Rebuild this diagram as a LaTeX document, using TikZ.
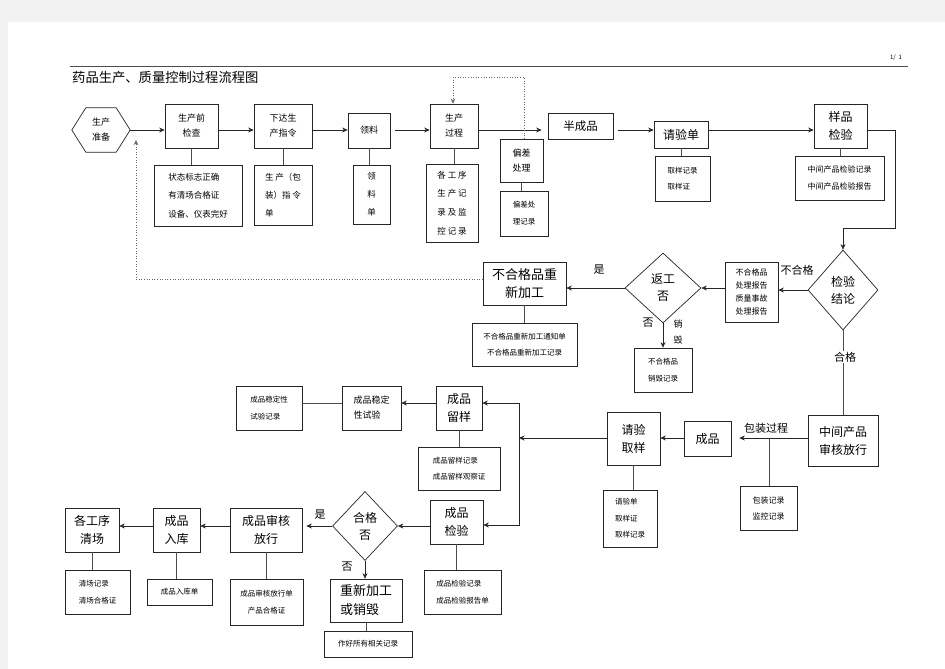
\documentclass[tikz,border=0pt]{standalone}
\usepackage{fontspec}
\setmainfont{Noto Sans CJK SC}
\usetikzlibrary{shapes.geometric,arrows.meta,calc}
\tikzset{
 bx/.style={draw=black!85, line width=0.7pt, inner sep=0pt, align=center},
 sm/.style={font=\fontsize{8}{16}\selectfont},
 tn/.style={font=\fontsize{7.5}{16.5}\selectfont},
 md/.style={font=\fontsize{9}{15}\selectfont},
 lg/.style={font=\fontsize{12}{18}\selectfont},
 arr/.style={-{Stealth[length=5.5pt,width=5pt]}, line width=0.7pt, draw=black!85},
 ln/.style={line width=0.7pt, draw=black!70},
 dotl/.style={dotted, line width=0.6pt, draw=black!60},
 lbl/.style={font=\fontsize{11}{12}\selectfont, inner sep=0pt},
 dia/.style={draw=black!85, line width=0.7pt, diamond, inner sep=0pt, align=center, font=\fontsize{12}{17}\selectfont},
}
\newcommand\mkbox[7]{\node[bx,#7,minimum width={(#3-#2)*1pt},minimum height={(#5-#4)*1pt}] (#1) at ({(#2+#3)/2},{(#4+#5)/2}) {#6};}
\begin{document}
\begin{tikzpicture}[x=1pt,y=-1pt]
\useasboundingbox (0,0) rectangle (945,669);
\fill[black!5] (0,0) rectangle (945,669);
\fill[white] (8,22) rectangle (945,669);
% header
\draw[black!70, line width=0.6pt] (70,66) -- (908,66);
\node[anchor=west, inner sep=0pt, font=\fontsize{13.3}{15}\selectfont] (title) at (72,77) {药品生产、质量控制过程流程图};
\node[inner sep=0pt, font=\fontsize{6}{7}\selectfont] (pg) at (896,58) {1/\ \ 1};
% hexagon
\node[minimum width=58pt, minimum height=44pt, inner sep=0pt, md, align=center] (hex) at (101,130) {生产\\准备};
\draw[black!85, line width=0.7pt] (hex.west) -- ([xshift=14pt]hex.north west) -- ([xshift=-14pt]hex.north east) -- (hex.east) -- ([xshift=-14pt]hex.south east) -- ([xshift=14pt]hex.south west) -- cycle;
% row 1
\mkbox{b1}{165}{218}{104}{148}{生产前\\检查}{md}
\mkbox{r1}{154}{242}{165}{226}{状态标志正确\\有清场合格证\\设备、仪表完好}{font=\fontsize{8.5}{18.5}\selectfont, align=left}
\mkbox{b2}{254}{312}{104}{148}{下达生\\产指令}{md, align=left}
\mkbox{r2}{254}{312}{165}{225}{生\ 产（包\\装）指\ 令\\单}{font=\fontsize{8.5}{18}\selectfont, align=left}
\mkbox{b3}{348}{390}{113}{148}{领料}{md}
\mkbox{r3}{353}{390}{165}{224}{领\\料\\单}{font=\fontsize{8.5}{18}\selectfont}
\mkbox{b4}{430}{478}{104}{148}{生产\\过程}{md}
\mkbox{r4}{426}{478}{164}{242}{各\ 工\ 序\\生\ 产\ 记\\录\ 及\ 监\\控\ 记\ 录}{font=\fontsize{8.5}{18.7}\selectfont}
\mkbox{b5}{500}{543}{139}{182}{偏差\\处理}{md, fill=white}
\mkbox{r5}{500}{548}{191}{236}{偏差处\\理记录}{font=\fontsize{7.5}{17}\selectfont}
\mkbox{b6}{548}{613}{113}{139}{半成品}{font=\fontsize{11.5}{13}\selectfont}
\mkbox{b7}{654}{708}{121}{148}{请验单}{lg}
\mkbox{r7}{655}{710}{156}{201}{取样记录\\取样证}{tn, align=left}
\mkbox{b8}{814}{867}{104}{148}{样品\\检验}{lg}
\mkbox{r8}{795}{884}{156}{200}{中间产品检验记录\\中间产品检验报告}{font=\fontsize{8}{17.5}\selectfont}
% row 2
\node[dia, minimum width=70pt, minimum height=80pt] (d1) at (843,290) {检验\\结论};
\mkbox{b9}{725}{778}{262}{322}{不合格品\\处理报告\\质量事故\\处理报告}{font=\fontsize{8}{13.2}\selectfont}
\node[dia, minimum width=76pt, minimum height=70pt] (d2) at (663,288) {返工\\否};
\mkbox{b10}{483}{566}{262}{305}{不合格品重\\新加工}{font=\fontsize{13}{18}\selectfont}
\mkbox{r10}{472}{577}{323}{366}{不合格品重新加工通知单\\不合格品重新加工记录}{tn}
\mkbox{r11}{634}{692}{348}{392}{不合格品\\销毁记录}{tn}
% row 3
\mkbox{b12}{808}{878}{415}{466}{中间产品\\审核放行}{lg}
\mkbox{r12}{740}{797}{486}{530}{包装记录\\监控记录}{sm}
\mkbox{b13}{684}{731}{421}{456}{成品}{lg}
\mkbox{b14}{607}{660}{412}{465}{请验\\取样}{lg}
\mkbox{r14}{603}{657}{490}{547}{请验单\\取样证\\取样记录}{tn, align=left}
\mkbox{b15}{436}{482}{386}{430}{成品\\留样}{lg}
\mkbox{r15}{418}{500}{447}{490}{成品留样记录\\成品留样观察证}{tn, align=left}
\mkbox{b16}{342}{401}{386}{430}{成品稳定\\性试验}{md, align=left}
\mkbox{r16}{236}{302}{386}{430}{成品稳定性\\试验记录}{tn, align=left}
% row 4
\mkbox{b17}{430}{483}{500}{544}{成品\\检验}{lg}
\mkbox{r17}{424}{501}{570}{614}{成品检验记录\\成品检验报告单}{tn, align=left}
\node[dia, minimum width=65pt, minimum height=69pt] (d3) at (365,526) {合格\\否};
\mkbox{b18}{330}{402}{579}{622}{重新加工\\或销毁}{font=\fontsize{13}{19}\selectfont, align=left}
\mkbox{r18}{324}{412}{631}{657}{作好所有相关记录}{tn}
\mkbox{b19}{230}{302}{508}{552}{成品审核\\放行}{lg}
\mkbox{r19}{230}{303}{579}{625}{成品审核放行单\\产品合格证}{tn}
\mkbox{b20}{153}{200}{508}{552}{成品\\入库}{lg}
\mkbox{r20}{147}{212}{579}{605}{成品入库单}{tn}
\mkbox{b21}{65}{119}{508}{552}{各工序\\清场}{lg}
\mkbox{r21}{65}{130}{570}{614}{清场记录\\清场合格证}{tn, align=left}
% coordinates
\coordinate (Y1) at (0,130);
\coordinate (c1) at (895,228);
\coordinate (p1) at (524,77);
\coordinate (p2) at (453,77);
\coordinate (p3) at (136,279);
\coordinate (p4) at (136,140);
\coordinate (J) at (519,438);
\coordinate (J1) at (519,403);
\coordinate (J2) at (519,525);
\coordinate (K) at (769,438);
% row 1 connectors
\draw[arr] (hex.east) -- (b1.west |- hex.east);
\draw[arr] (b1.east |- Y1) -- (b2.west |- Y1);
\draw[arr] (b2.east |- Y1) -- (b3.west |- Y1);
\draw[arr] ([xshift=5pt]b3.east |- Y1) -- (b4.west |- Y1);
\draw[arr] (b4.east |- Y1) -- ([xshift=-6pt]b6.west |- Y1);
\draw[arr] ([xshift=5pt]b6.east |- Y1) -- (b7.west |- Y1);
\draw[arr] (b7.east |- Y1) -- (b8.west |- Y1);
\draw[arr] (b8.east |- Y1) -| (c1) -| (d1.north);
\foreach \a/\b in {b1/r1,b2/r2,b3/r3,b4/r4,b5/r5,b7/r7,b8/r8}{
  \draw[ln] (\a.south) -- (\a.south |- \b.north);
}
\draw[dotl, -{Stealth[length=5pt,width=4.5pt]}] (p1 |- b5.north) -- (p1) -- (p2) -- (p2 |- b4.north);
% row 2 connectors
\draw[arr] (d1.west) -- (b9.east |- d1.west);
\node[lbl] (lb1) at (797,270) {不合格};
\draw[arr] (b9.west |- d2.east) -- (d2.east);
\draw[arr] (d2.west) -- (b10.east |- d2.west);
\node[lbl] (lb2) at (599,270) {是};
\draw[ln] (b10.south) -- (b10.south |- r10.north);
\draw[arr] (d2.south) -- (d2.south |- r11.north);
\node[lbl] (lb3) at (648,323) {否};
\node[inner sep=0pt, font=\fontsize{9}{16}\selectfont, align=center] (lb4) at (678,332) {销\\毁};
\draw[dotl, -{Stealth[length=5pt,width=4.5pt]}] (b10.west |- p3) -- (p3) -- (p4);
\draw[ln] (d1.south) -- (d1.south |- b12.north);
\node[lbl, fill=white, inner sep=1pt] (lb5) at (845,357) {合格};
% row 3 connectors
\draw[arr] (b12.west |- J) -- ([xshift=8pt]b13.east |- J);
\node[lbl] (lb6) at (766,428) {包装过程};
\draw[ln] (K) -- (K |- r12.north);
\draw[arr] (b13.west |- J) -- (b14.east |- J);
\draw[arr] (b14.west |- J) -- (J);
\draw[arr] (J) -- (J1) -- (b15.east |- J1);
\draw[arr] (J) -- (J2) -- (b17.east |- J2);
\draw[ln] (b14.south) -- (b14.south |- r14.north);
\draw[arr] (b15.west |- J1) -- (b16.east |- J1);
\draw[ln] (b16.west |- J1) -- (r16.east |- J1);
\draw[ln] (b15.south) -- (b15.south |- r15.north);
% row 4 connectors
\draw[arr] (b17.west |- d3) -- (d3.east);
\draw[ln] (b17.south) -- (b17.south |- r17.north);
\draw[arr] (d3.west) -- ([xshift=4pt]b19.east |- d3.west);
\node[lbl] (lb7) at (320,515) {是};
\draw[arr] (d3.south) -- (d3.south |- b18.north);
\node[lbl] (lb8) at (347,567) {否};
\draw[ln] (b18.south) -- (b18.south |- r18.north);
\draw[arr] (b19.west |- d3) -- (b20.east |- d3);
\draw[arr] (b20.west |- d3) -- (b21.east |- d3);
\draw[ln] (b19.south) -- (b19.south |- r19.north);
\draw[ln] (b20.south) -- (b20.south |- r20.north);
\draw[ln] (b21.south) -- (b21.south |- r21.north);
\end{tikzpicture}
\end{document}
